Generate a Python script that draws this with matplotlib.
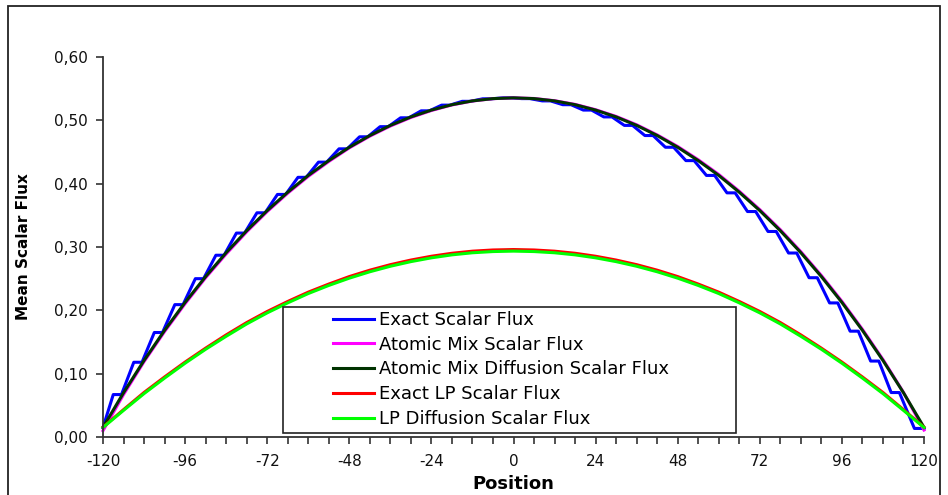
import matplotlib
matplotlib.use("Agg")
from matplotlib import pyplot as plt
from matplotlib.patches import Rectangle
from matplotlib.ticker import MultipleLocator, FuncFormatter

plt.rcParams['font.family'] = ['DejaVu Sans']
plt.rcParams['axes.unicode_minus'] = False

# positions of the smooth curves (every 6 units)
pos = [-120, -114, -108, -102, -96, -90, -84, -78, -72, -66, -60, -54, -48, -42,
       -36, -30, -24, -18, -12, -6, 0, 6, 12, 18, 24, 30, 36, 42, 48, 54, 60, 66,
       72, 78, 84, 90, 96, 102, 108, 114, 120]

atomic_mix = [0.010, 0.067, 0.119, 0.1665, 0.2105, 0.2515, 0.289, 0.324, 0.356,
              0.385, 0.4115, 0.435, 0.4565, 0.475, 0.491, 0.5045, 0.5155, 0.5243,
              0.5305, 0.5342, 0.5355, 0.5345, 0.531, 0.5252, 0.5168, 0.5062, 0.493,
              0.477, 0.4587, 0.4378, 0.4145, 0.388, 0.359, 0.3273, 0.2926, 0.2550,
              0.2142, 0.1700, 0.1224, 0.0705, 0.011]

am_diffusion = [0.0152, 0.0699, 0.1209, 0.1684, 0.2125, 0.2533, 0.2910, 0.3257,
                0.3575, 0.3865, 0.4130, 0.4364, 0.4575, 0.4760, 0.4920, 0.5054,
                0.5162, 0.5247, 0.5307, 0.5343, 0.5355, 0.5343, 0.5307, 0.5247,
                0.5162, 0.5054, 0.4920, 0.4760, 0.4575, 0.4364, 0.4130, 0.3865,
                0.3575, 0.3257, 0.2910, 0.2533, 0.2125, 0.1684, 0.1209, 0.0699,
                0.0152]

lp_exact = [0.0155, 0.0432, 0.0703, 0.0948, 0.1183, 0.1403, 0.1612, 0.1807, 0.1982,
            0.2140, 0.2287, 0.2415, 0.2533, 0.2634, 0.2721, 0.2794, 0.2854, 0.2901,
            0.2934, 0.2953, 0.2960, 0.2953, 0.2934, 0.2901, 0.2854, 0.2794, 0.2721,
            0.2634, 0.2533, 0.2415, 0.2287, 0.2140, 0.1982, 0.1807, 0.1612, 0.1403,
            0.1183, 0.0948, 0.0703, 0.0432, 0.0155]

lp_diffusion = [0.0150, 0.0420, 0.0685, 0.0930, 0.1165, 0.1385, 0.1590, 0.1785,
                0.1960, 0.2118, 0.2265, 0.2393, 0.2508, 0.2609, 0.2696, 0.2769,
                0.2829, 0.2876, 0.2909, 0.2928, 0.2935, 0.2928, 0.2909, 0.2876,
                0.2829, 0.2769, 0.2696, 0.2609, 0.2508, 0.2393, 0.2265, 0.2118,
                0.1960, 0.1785, 0.1590, 0.1385, 0.1165, 0.0930, 0.0685, 0.0420,
                0.0150]

# exact flux: plateau corners of the staircase
exact_x = [-120, -117.0, -114.6, -111.0, -108.6, -105.0, -102.6, -99.0, -96.6,
           -93.0, -90.6, -87.0, -84.6, -81.0, -78.6, -75.0, -72.6, -69.0, -66.6,
           -63.0, -60.6, -57.0, -54.6, -51.0, -48.6, -45.0, -42.6, -39.0, -36.6,
           -33.0, -30.6, -27.0, -24.6, -21.0, -18.6, -15.0, -12.6, -9.0, -6.6,
           -3.0, -0.6, 2.4, 4.8, 8.4, 10.8, 14.4, 16.8, 20.4, 22.8, 26.4, 28.8,
           32.4, 34.8, 38.4, 40.8, 44.4, 46.8, 50.4, 52.8, 56.4, 58.8, 62.4, 64.8,
           68.4, 70.8, 74.4, 76.8, 80.4, 82.8, 86.4, 88.8, 92.4, 94.8, 98.4, 100.8,
           104.4, 106.8, 110.4, 112.8, 117.2, 119.6, 120]
exact_y = [0.015, 0.067, 0.067, 0.118, 0.118, 0.165, 0.165, 0.209, 0.209, 0.250,
           0.250, 0.287, 0.287, 0.322, 0.322, 0.354, 0.354, 0.383, 0.383, 0.410,
           0.410, 0.434, 0.434, 0.455, 0.455, 0.474, 0.474, 0.490, 0.490, 0.504,
           0.504, 0.515, 0.515, 0.524, 0.524, 0.530, 0.530, 0.534, 0.534, 0.5355,
           0.5355, 0.5343, 0.5343, 0.5307, 0.5307, 0.5247, 0.5247, 0.5162, 0.5162,
           0.5054, 0.5054, 0.4920, 0.4920, 0.4760, 0.4760, 0.4575, 0.4575, 0.4364,
           0.4364, 0.4130, 0.4130, 0.3855, 0.3855, 0.3560, 0.3560, 0.3245, 0.3245,
           0.2905, 0.2905, 0.2515, 0.2515, 0.2117, 0.2117, 0.1671, 0.1671, 0.1199,
           0.1199, 0.0702, 0.0702, 0.0135, 0.0135, 0.0125]

labels = ["Exact Scalar Flux", "Atomic Mix Scalar Flux",
          "Atomic Mix Diffusion Scalar Flux", "Exact LP Scalar Flux",
          "LP Diffusion Scalar Flux"]

fig = plt.figure(figsize=(9.48, 4.95), dpi=100)
ax = fig.add_axes([103/948, 58/495, 821/948, 380/495])

# outer chart frame
fig.patches.append(Rectangle((8/948, -0.02), 932/948, 1.02 - 6/495,
                             transform=fig.transFigure, fill=False,
                             edgecolor='#222222', linewidth=1.3))

lw = 2.2
ax.plot(exact_x, exact_y, color='#0000FF', lw=lw, label=labels[0], clip_on=False)
ax.plot(pos, atomic_mix, color='#FF00FF', lw=lw, label=labels[1], clip_on=False)
ax.plot(pos, am_diffusion, color='#003300', lw=lw, label=labels[2], clip_on=False)
ax.plot(pos, lp_exact, color='#FF0000', lw=lw, label=labels[3], clip_on=False)
ax.plot(pos, lp_diffusion, color='#00FF00', lw=lw, label=labels[4], clip_on=False)

ax.set_xlim(-120, 120)
ax.set_ylim(0, 0.6)
for s in ['top', 'right']:
    ax.spines[s].set_visible(False)
for s in ['left', 'bottom']:
    ax.spines[s].set_color('#333333')
    ax.spines[s].set_linewidth(1.3)

ax.xaxis.set_major_locator(MultipleLocator(24))
ax.xaxis.set_minor_locator(MultipleLocator(6))
ax.yaxis.set_major_locator(MultipleLocator(0.1))
ax.xaxis.set_major_formatter(FuncFormatter(lambda v, p: "%d" % round(v)))
ax.yaxis.set_major_formatter(FuncFormatter(lambda v, p: ("%.2f" % v).replace(".", ",")))
ax.tick_params(axis='both', which='both', direction='out', length=5, width=1.2,
               color='#333333', labelsize=11, labelcolor='#111111')
ax.tick_params(axis='x', pad=7)
ax.tick_params(axis='y', pad=6)

ax.set_xlabel("Position", fontsize=13, fontweight='bold')
ax.set_ylabel("Mean Scalar Flux", fontsize=11, fontweight='bold')
ax.xaxis.set_label_coords(0.5, -0.101)
ax.yaxis.set_label_coords(-0.088, 0.5)

# legend box
ax.add_patch(Rectangle((0.2192, 0.0105), 0.5518, 0.3316, transform=ax.transAxes,
                       facecolor='white', edgecolor='#222222', linewidth=1.2,
                       zorder=5))
leg = ax.legend(loc='upper left', bbox_to_anchor=(0.2798, 0.332), frameon=False,
                fontsize=13, borderpad=0, borderaxespad=0, handlelength=2.3,
                handletextpad=0.28, labelspacing=0.375)
leg.set_zorder(6)

fig.savefig("out.png", dpi=100)
